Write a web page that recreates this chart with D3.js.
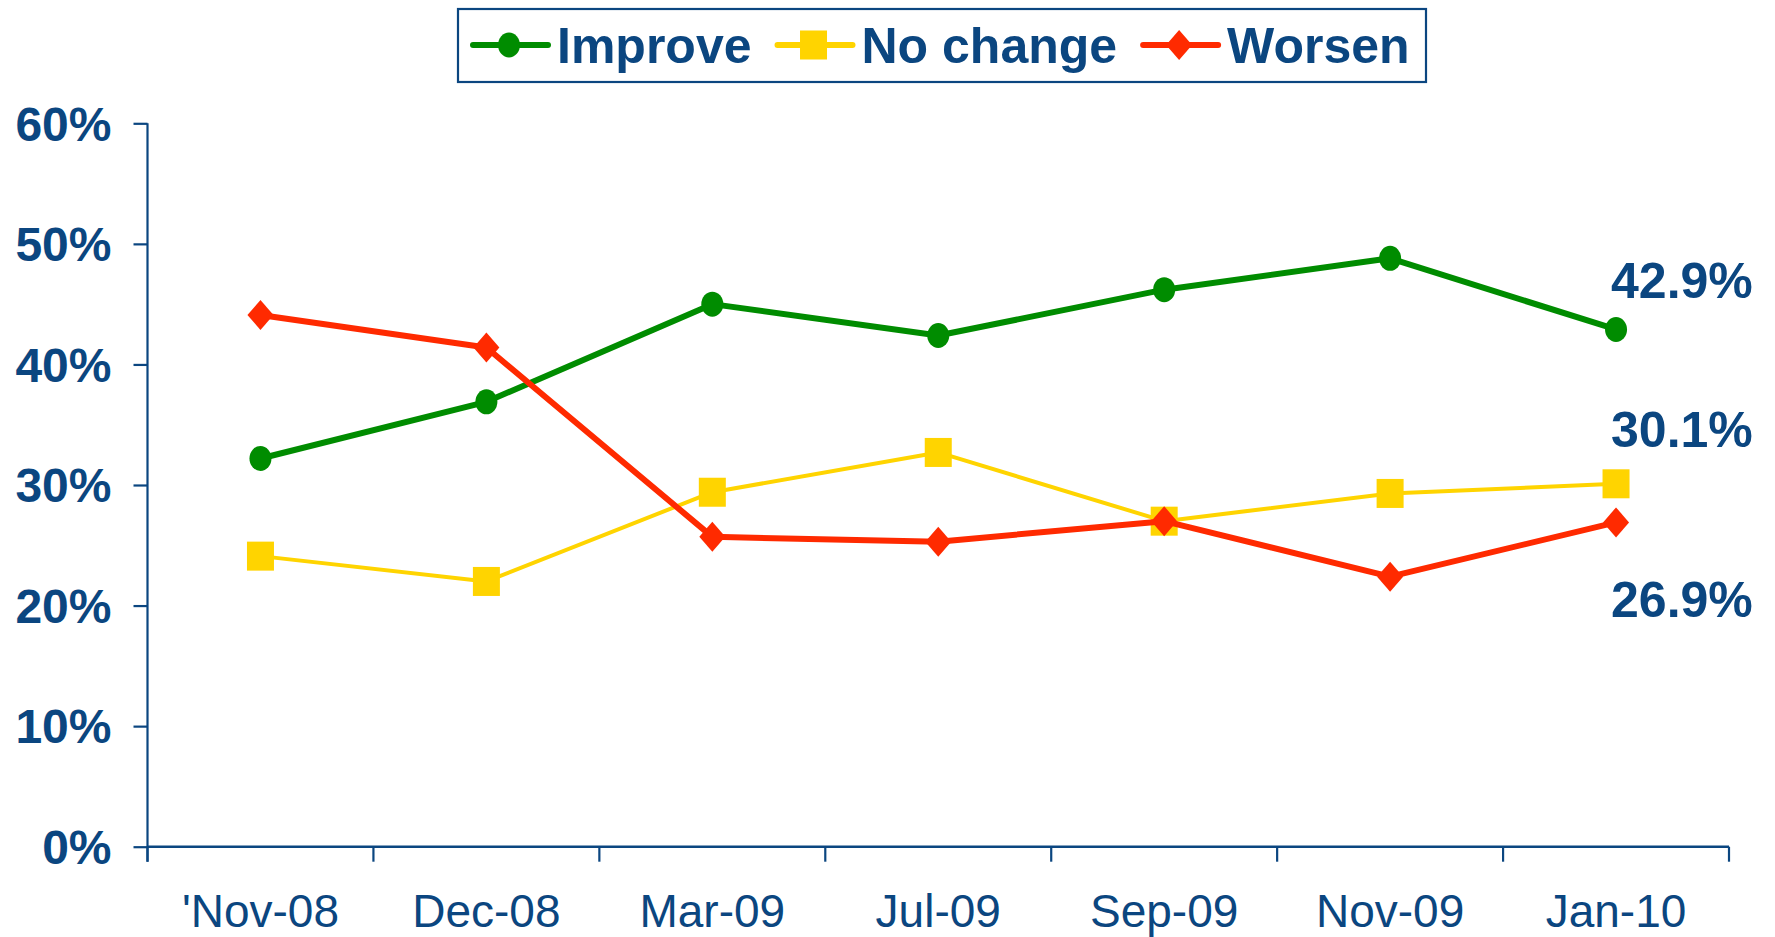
<!DOCTYPE html>
<html>
<head>
<meta charset="utf-8">
<script src="https://cdn.jsdelivr.net/npm/d3@7"></script>
<style>
  html, body { margin: 0; padding: 0; background: #ffffff; }
  svg { display: block; font-family: "Liberation Sans", Arial, sans-serif; }
</style>
</head>
<body>
<svg id="chart" width="1775" height="937"></svg>
<script>
// ---- data ----
const categories = ["'Nov-08", "Dec-08", "Mar-09", "Jul-09", "Sep-09", "Nov-09", "Jan-10"];
const improve  = [32.2, 36.9, 45.0, 42.4, 46.2, 48.8, 42.9];
const noChange = [24.1, 22.0, 29.4, 32.7, 27.0, 29.3, 30.1];
const worsen   = [44.1, 41.4, 25.7, 25.3, 27.0, 22.4, 26.9];
const seriesNames = ["Improve", "No change", "Worsen"];
const yTicks = [0, 10, 20, 30, 40, 50, 60];

// ---- styling ----
const textColor = "#0B4680";
const axisColor = "#0B4680";
const styles = {
  "Improve":   { color: "#008C00", width: 6,   marker: "circle",  labelDy: -31 },
  "No change": { color: "#FFD400", width: 4,   marker: "square",  labelDy: -37 },
  "Worsen":    { color: "#FF2A00", width: 6,   marker: "diamond", labelDy: 95 }
};
const seriesData = { "Improve": improve, "No change": noChange, "Worsen": worsen };

const svg = d3.select("#chart");
const mLeft = 147.5, mRight = 1729, mTop = 123.3, mBottom = 846.7;

const x = d3.scaleBand().domain(categories).range([mLeft, mRight]).padding(0);
const y = d3.scaleLinear().domain([0, 60]).range([mBottom, mTop]);
const cx = c => x(c) + x.bandwidth() / 2;

// ---- axes ----
const yAxis = svg.append("g")
  .attr("transform", `translate(${mLeft},0)`)
  .call(d3.axisLeft(y).tickValues(yTicks).tickSize(14).tickPadding(22).tickFormat(d => d + "%"));
yAxis.select(".domain").attr("stroke", axisColor).attr("stroke-width", 2.2)
  .attr("d", `M0,${mTop}V${mBottom + 15}`);
yAxis.selectAll(".tick line").attr("stroke", axisColor).attr("stroke-width", 2.2);
yAxis.selectAll(".tick text")
  .attr("fill", textColor).attr("font-size", 48).attr("font-weight", "bold")
  .attr("dy", "0.35em");

const xAxis = svg.append("g")
  .attr("transform", `translate(0,${mBottom})`)
  .call(d3.axisBottom(x).tickSize(0).tickPadding(0));
xAxis.select(".domain").attr("stroke", axisColor).attr("stroke-width", 2.6).attr("d", `M${mLeft},0H${mRight}`);
xAxis.selectAll(".tick text")
  .attr("fill", textColor).attr("font-size", 46).attr("font-weight", "normal")
  .attr("dy", 0).attr("y", 80);
// boundary ticks between categories
const boundaries = categories.map(c => x(c)).concat([x(categories[categories.length - 1]) + x.bandwidth()]);
xAxis.selectAll(".bt").data(boundaries).enter().append("line")
  .attr("x1", d => d).attr("x2", d => d).attr("y1", 0).attr("y2", 15)
  .attr("stroke", axisColor).attr("stroke-width", 2.2);

// ---- marker drawing ----
function drawMarker(g, type, px, py, color) {
  if (type === "circle") {
    g.append("ellipse").attr("cx", px).attr("cy", py).attr("rx", 11).attr("ry", 12.5).attr("fill", color);
  } else if (type === "square") {
    g.append("rect").attr("x", px - 13.5).attr("y", py - 14.5).attr("width", 27).attr("height", 29).attr("fill", color);
  } else {
    g.append("path").attr("d", `M${px},${py - 15}L${px + 13},${py}L${px},${py + 15}L${px - 13},${py}Z`).attr("fill", color);
  }
}

// ---- lines ----
const line = d3.line().x((d, i) => cx(categories[i])).y(d => y(d));
const drawOrder = ["Improve", "No change", "Worsen"];
drawOrder.forEach(name => {
  const st = styles[name];
  const vals = seriesData[name];
  const g = svg.append("g");
  g.append("path").datum(vals).attr("d", line)
    .attr("fill", "none").attr("stroke", st.color).attr("stroke-width", st.width)
    .attr("stroke-linejoin", "round");
  vals.forEach((v, i) => drawMarker(g, st.marker, cx(categories[i]), y(v), st.color));
});

// ---- end labels ----
seriesNames.forEach(name => {
  const st = styles[name];
  const vals = seriesData[name];
  const last = vals[vals.length - 1];
  svg.append("text")
    .attr("x", cx(categories[categories.length - 1]) - 5)
    .attr("y", y(last) + st.labelDy)
    .attr("fill", textColor).attr("font-size", 50).attr("font-weight", "bold")
    .text(last.toFixed(1) + "%");
});

// ---- legend ----
const legend = svg.append("g");
legend.append("rect").attr("x", 458).attr("y", 9).attr("width", 968).attr("height", 73)
  .attr("fill", "#fff").attr("stroke", axisColor).attr("stroke-width", 2.2);
let lx = 473;
const ly = 45;
seriesNames.forEach(name => {
  const st = styles[name];
  legend.append("line").attr("x1", lx).attr("x2", lx + 75).attr("y1", ly).attr("y2", ly)
    .attr("stroke", st.color).attr("stroke-width", 6).attr("stroke-linecap", "round");
  drawMarker(legend, st.marker, lx + 36, ly, st.color);
  const t = legend.append("text").attr("x", lx + 84).attr("y", 63)
    .attr("fill", textColor).attr("font-size", 50).attr("font-weight", "bold").text(name);
  lx = lx + 84 + t.node().getComputedTextLength() + 26;
});
</script>
</body>
</html>
